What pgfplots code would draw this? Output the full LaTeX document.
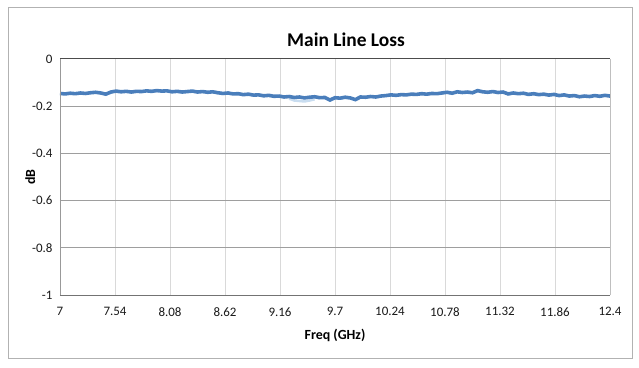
\documentclass[border=0pt]{standalone}
\usepackage{pgfplots}
\pgfplotsset{compat=1.18}
\usepackage{fontspec}
\setmainfont{Carlito}
\definecolor{lineblue}{HTML}{4A7EBB}
\definecolor{ghost}{HTML}{C9DDF0}
\begin{document}
\begin{tikzpicture}
\begin{axis}[
  scale only axis,
  width=550bp, height=236bp,
  xmin=7, xmax=12.4, ymin=-1, ymax=0,
  axis line style={draw=none},
  xtick={7,7.54,8.08,8.62,9.16,9.7,10.24,10.78,11.32,11.86,12.4},
  xticklabels={7,7.54,8.08,8.62,9.16,9.7,10.24,10.78,11.32,11.86,12.4},
  ytick={-1,-0.8,-0.6,-0.4,-0.2,0},
  yticklabels={-1,-0.8,-0.6,-0.4,-0.2,0},
  major tick length=0pt,
  xmajorgrids, ymajorgrids,
  x grid style={draw=black!15, line width=1pt},
  y grid style={draw=black!38, line width=1pt},
  ticklabel style={font=\fontsize{13}{15}\selectfont, text=black!90},
  xticklabel style={yshift=-9bp},
  yticklabel style={xshift=-4bp},
  title={\textbf{Main Line Loss}},
  title style={font=\fontsize{19.5}{22}\selectfont, at={(rel axis cs:0.52,1)}, yshift=3bp},
  xlabel={\textbf{Freq (GHz)}},
  ylabel={\textbf{dB}},
  label style={font=\fontsize{14}{16}\selectfont},
  xlabel style={yshift=-6bp},
  ylabel style={yshift=-10bp},
  clip=false,
]
\addplot[ghost, line width=2.5pt] coordinates {
(9.25,-0.168) (9.30,-0.176) (9.35,-0.178) (9.40,-0.180) (9.45,-0.176) (9.50,-0.171)
};
\addplot[lineblue, line width=3.6pt] coordinates {
(7.00,-0.146) (7.05,-0.148) (7.10,-0.145) (7.15,-0.147) (7.20,-0.144) (7.25,-0.146)
(7.30,-0.143) (7.35,-0.141) (7.40,-0.144) (7.45,-0.149) (7.50,-0.140) (7.55,-0.136)
(7.60,-0.139) (7.65,-0.137) (7.70,-0.140) (7.75,-0.137) (7.80,-0.138) (7.85,-0.135)
(7.90,-0.137) (7.95,-0.134) (8.00,-0.136) (8.05,-0.135) (8.10,-0.139) (8.15,-0.137)
(8.20,-0.140) (8.25,-0.138) (8.30,-0.136) (8.35,-0.140) (8.40,-0.138) (8.45,-0.141)
(8.50,-0.139) (8.55,-0.143) (8.60,-0.146) (8.65,-0.144) (8.70,-0.148) (8.75,-0.147)
(8.80,-0.151) (8.85,-0.149) (8.90,-0.153) (8.95,-0.152) (9.00,-0.156) (9.05,-0.154)
(9.10,-0.158) (9.15,-0.157) (9.20,-0.161) (9.25,-0.159) (9.30,-0.163) (9.35,-0.161)
(9.40,-0.165) (9.45,-0.162) (9.50,-0.160) (9.55,-0.164) (9.60,-0.163) (9.65,-0.174)
(9.70,-0.164) (9.75,-0.166) (9.80,-0.162) (9.85,-0.165) (9.90,-0.172) (9.95,-0.161)
(10.00,-0.162) (10.05,-0.159) (10.10,-0.161) (10.15,-0.157) (10.20,-0.155) (10.25,-0.152)
(10.30,-0.154) (10.35,-0.151) (10.40,-0.152) (10.45,-0.149) (10.50,-0.150) (10.55,-0.147)
(10.60,-0.149) (10.65,-0.146) (10.70,-0.147) (10.75,-0.144) (10.80,-0.141) (10.85,-0.145)
(10.90,-0.139) (10.95,-0.142) (11.00,-0.140) (11.05,-0.143) (11.10,-0.134) (11.15,-0.139)
(11.20,-0.141) (11.25,-0.138) (11.30,-0.142) (11.35,-0.140) (11.40,-0.148) (11.45,-0.144)
(11.50,-0.147) (11.55,-0.145) (11.60,-0.150) (11.65,-0.147) (11.70,-0.151) (11.75,-0.149)
(11.80,-0.153) (11.85,-0.150) (11.90,-0.155) (11.95,-0.152) (12.00,-0.157) (12.05,-0.155)
(12.10,-0.160) (12.15,-0.157) (12.20,-0.159) (12.25,-0.155) (12.30,-0.158) (12.35,-0.154)
(12.40,-0.157)
};
\end{axis}
% plot area border
\draw[black!40, line width=1pt] (current axis.south west) -- (current axis.north west);
\draw[black!55, line width=1pt] (current axis.south west) -- (current axis.south east);
\draw[black!25, line width=1pt] (current axis.south east) -- (current axis.north east);
\draw[black!70, line width=1pt] (current axis.north west) -- (current axis.north east);
% chart area frame
\draw[black!30, line width=1pt] ([shift={(-52bp,-63bp)}]current axis.south west) rectangle ([shift={(22bp,51.5bp)}]current axis.north east);
% bounding box
\path ([shift={(-60bp,-72bp)}]current axis.south west) rectangle ([shift={(29bp,59bp)}]current axis.north east);
\end{tikzpicture}
\end{document}
